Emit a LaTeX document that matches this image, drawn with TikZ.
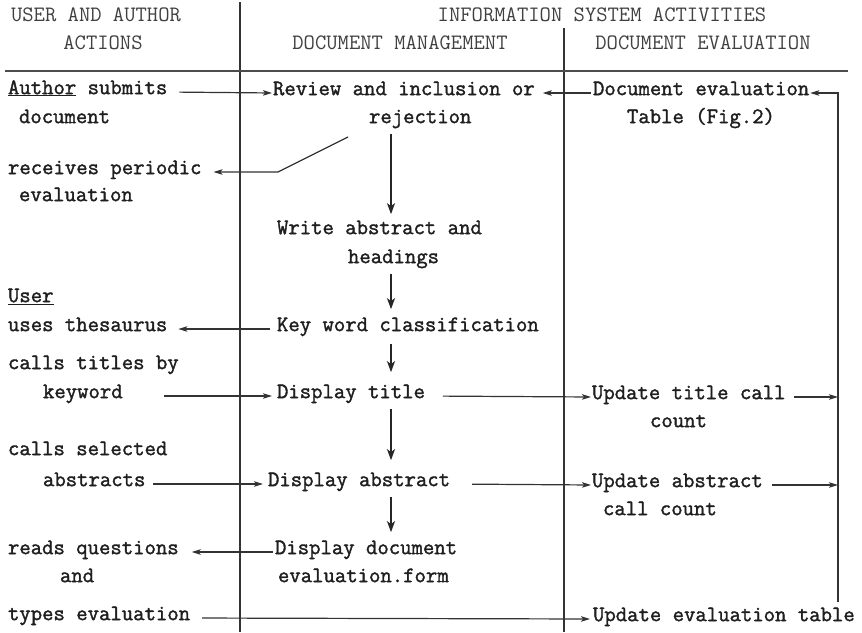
\documentclass[tikz,border=0pt]{standalone}
\usepackage{fontspec}
\newfontfamily\typewriter{Latin Modern Mono}[FakeBold=1.6]
\newfontfamily\typelight{Latin Modern Mono}
\usetikzlibrary{arrows.meta}
\begin{document}
\begin{tikzpicture}[x=1pt,y=-1pt,
  every node/.style={inner sep=0pt,outer sep=0pt,text height=12pt,text depth=4pt},
  txt/.style={anchor=mid west,text=black!88,font=\fontsize{22.1}{26}\typewriter},
  hdr/.style={anchor=mid,text=black!75,font=\fontsize{22}{26}\typelight},
  rule/.style={draw=black!80,line width=1.3pt},
  arr/.style={draw=black!80,line width=1.2pt,-{Stealth[length=9pt,width=5.5pt,inset=2pt]}},
  down/.style={draw=black!85,line width=1.8pt,-{Stealth[length=11pt,width=8pt,inset=3pt]}}]
\useasboundingbox (0,0) rectangle (862,632);

% column headings
\node[hdr] (h-user)    at (96,19)  {USER AND AUTHOR};
\node[hdr] (h-actions) at (103,47) {ACTIONS};
\node[hdr] (h-info)    at (602,19) {INFORMATION SYSTEM ACTIVITIES};
\node[hdr] (h-mgmt)    at (400,47) {DOCUMENT MANAGEMENT};
\node[hdr] (h-eval)    at (703,47) {DOCUMENT EVALUATION};

% column rules
\coordinate (vl-top) at (240,2);
\coordinate (vl-bot) at (240,632);
\coordinate (vr-top) at (564,28);
\coordinate (vr-bot) at (564,632);
\coordinate (hr-l) at (5,71);
\coordinate (hr-r) at (848,71);
\draw[rule] (vl-top) -- (vl-bot);
\draw[rule] (vr-top) -- (vr-bot);
\draw[draw=black!70,line width=2.4pt] (hr-l) -- (hr-r);

% user and author actions
\node[txt] (t-author)    at (8,92)   {\underline{Author} submits};
\node[txt] (t-document)  at (19,121) {document};
\node[txt] (t-receives)  at (8,172)  {receives periodic};
\node[txt] (t-evaluation) at (19,199) {evaluation};
\node[txt] (t-user)      at (8,300)  {\underline{User}};
\node[txt] (t-uses)      at (8,329)  {uses thesaurus};
\node[txt] (t-calls1)    at (8,367)  {calls titles by};
\node[txt] (t-keyword)   at (43,396) {keyword};
\node[txt] (t-calls2)    at (8,453)  {calls selected};
\node[txt] (t-abstracts) at (43,484) {abstracts};
\node[txt] (t-reads)     at (8,552)  {reads questions};
\node[txt] (t-and)       at (60,580) {and};
\node[txt] (t-types)     at (8,618)  {types evaluation};

% document management
\node[txt] (m-review)    at (273,93)  {Review and inclusion or};
\node[txt] (m-rejection) at (369,121) {rejection};
\node[txt] (m-write)     at (277,232) {Write abstract and};
\node[txt] (m-headings)  at (348,261) {headings};
\node[txt] (m-key)       at (277,329) {Key word classification};
\node[txt] (m-title)     at (277,396) {Display title};
\node[txt] (m-abstract)  at (268,484) {Display abstract};
\node[txt] (m-docform)   at (275,552) {Display document};
\node[txt] (m-form)      at (278,580) {evaluation.form};

% document evaluation
\node[txt] (r-doceval)   at (593,93)  {Document evaluation};
\node[txt] (r-table)     at (627,121) {Table (Fig.2)};
\node[txt] (r-title)     at (592,397) {Update title call};
\node[txt] (r-count)     at (650,425) {count};
\node[txt] (r-abstract)  at (592,485) {Update abstract};
\node[txt] (r-callcount) at (603,513) {call count};
\node[txt] (r-table2)    at (593,619) {Update evaluation table};

% helper points
\coordinate (mc) at (391,0);
\coordinate (rj) at (348,137);
\coordinate (bend) at (278,172);
\coordinate (fb-top) at (838,93);
\coordinate (fb-bot) at (838,602);

% flow down the management column
\draw[down,shorten <=7pt,shorten >=8pt]  (m-rejection.south -| mc) -- (m-write.north -| mc);
\draw[down,shorten <=7pt,shorten >=10pt] (m-headings.south -| mc) -- (m-key.north -| mc);
\draw[down,shorten <=9pt,shorten >=14pt] (m-key.south -| mc) -- (m-title.north -| mc);
\draw[down,shorten <=7pt,shorten >=14pt] (m-title.south -| mc) -- (m-abstract.north -| mc);
\draw[down,shorten <=7pt,shorten >=10pt] (m-abstract.south -| mc) -- (m-docform.north -| mc);

% exchanges with author and user
\draw[arr,shorten <=12pt,shorten >=1pt]  (t-author.mid east) -- (m-review.mid west);
\draw[arr,shorten >=12pt] (rj) -- (bend) -- (t-receives.mid east);
\draw[arr,shorten <=7pt,shorten >=11pt]  (m-key.mid west) -- (t-uses.mid east);
\draw[arr,shorten <=41pt,shorten >=5pt]  (t-keyword.mid east) -- (m-title.mid west);
\draw[arr,shorten <=8pt,shorten >=5pt]   (t-abstracts.mid east) -- (m-abstract.mid west);
\draw[arr,shorten <=2pt,shorten >=13pt]  (m-docform.mid west) -- (t-reads.mid east);
\draw[arr,shorten <=12pt,shorten >=3pt]  (t-types.mid east) -- (r-table2.mid west);

% exchanges with evaluation
\draw[arr,shorten <=2pt,shorten >=8pt]   (r-doceval.mid west) -- (m-review.mid east);
\draw[arr,shorten <=18pt,shorten >=1pt]  (m-title.mid east) -- (r-title.mid west);
\draw[arr,shorten <=22pt,shorten >=1pt]  (m-abstract.mid east) -- (r-abstract.mid west);
\draw[arr,shorten <=9pt] (r-title.mid east) -- (r-title.mid east -| fb-top);
\draw[arr,shorten <=9pt] (r-abstract.mid east) -- (r-abstract.mid east -| fb-top);

% feedback into the evaluation table
\draw[arr,shorten >=1pt] (fb-bot) -- (fb-top) -- (r-doceval.mid east);
\end{tikzpicture}
\end{document}
